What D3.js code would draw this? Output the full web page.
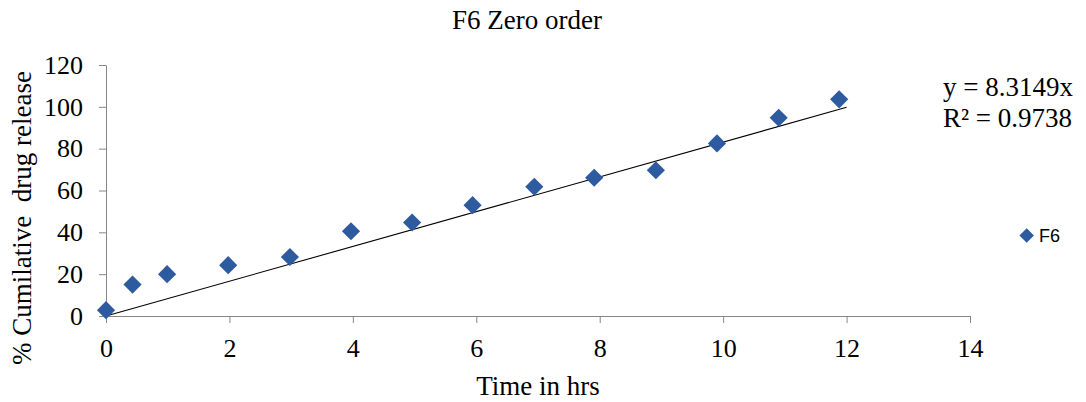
<!DOCTYPE html>
<html>
<head>
<meta charset="utf-8">
<script src="https://cdn.jsdelivr.net/npm/d3@7"></script>
<style>
  html, body { margin: 0; padding: 0; background: #fff; }
  svg { display: block; }
  .serif { font-family: "Liberation Serif", "Times New Roman", serif; fill: #000; }
</style>
</head>
<body>
<svg id="chart" width="1086" height="402"></svg>
<script>
// ---- data ----
const timeHrs   = [0, 0.43, 0.99, 1.98, 2.98, 3.97, 4.96, 5.94, 6.94, 7.91, 8.91, 9.9, 10.9, 11.88];
const releaseF6 = [2.8, 15.0, 20.0, 24.3, 28.2, 40.5, 44.7, 53.0, 61.8, 66.1, 69.7, 82.5, 94.8, 103.6];
const xTicks = [0, 2, 4, 6, 8, 10, 12, 14];
const yTicks = [0, 20, 40, 60, 80, 100, 120];
const slope = 8.3149;
const trendX = [0, 12];
const seriesName = "F6";
const titleText = "F6 Zero order";
const xTitle = "Time in hrs";
const yTitle = "% Cumilative\u00A0 drug release";
const eqLines = ["y = 8.3149x", "R\u00B2 = 0.9738"];

// ---- layout ----
const svg = d3.select("#chart");
const x = d3.scaleLinear().domain([0, 14]).range([106, 970]);
const y = d3.scaleLinear().domain([0, 120]).range([316, 65]);
const axisColor = "#868686";
const markerColor = "#2E5AA0";

svg.append("rect").attr("width", 1086).attr("height", 402).attr("fill", "#fff");

// x axis
const gx = svg.append("g").attr("transform", `translate(0,${y(0)})`)
  .call(d3.axisBottom(x).tickValues(xTicks).tickSize(7).tickSizeOuter(0).tickPadding(16));
// y axis
const gy = svg.append("g").attr("transform", `translate(${x(0)},0)`)
  .call(d3.axisLeft(y).tickValues(yTicks).tickSize(7).tickSizeOuter(0).tickPadding(16));

[gx, gy].forEach(g => {
  g.select(".domain").attr("stroke", axisColor).attr("stroke-width", 1);
  g.selectAll(".tick line").attr("stroke", axisColor);
  g.selectAll(".tick text").attr("class", "serif")
    .attr("font-size", 26).attr("fill", "#000");
});

// trendline
svg.append("line")
  .attr("x1", x(trendX[0])).attr("y1", y(slope * trendX[0]))
  .attr("x2", x(trendX[1])).attr("y2", y(slope * trendX[1]))
  .attr("stroke", "#000").attr("stroke-width", 1.1);

// markers
const diamond = d3.symbol().type(d3.symbolSquare).size(165);
svg.append("g").selectAll("path")
  .data(timeHrs.map((t, i) => [t, releaseF6[i]]))
  .join("path")
  .attr("d", diamond)
  .attr("transform", d => `translate(${x(d[0])},${y(d[1])}) rotate(45)`)
  .attr("fill", markerColor);

// title
svg.append("text").attr("class", "serif")
  .attr("x", 527).attr("y", 29).attr("text-anchor", "middle")
  .attr("font-size", 27).text(titleText);

// axis titles
svg.append("text").attr("class", "serif")
  .attr("x", 538).attr("y", 395).attr("text-anchor", "middle")
  .attr("font-size", 27).text(xTitle);
svg.append("text").attr("class", "serif")
  .attr("transform", "translate(31,218) rotate(-90)")
  .attr("text-anchor", "middle")
  .attr("font-size", 27).text(yTitle);

// equation
svg.append("g").selectAll("text")
  .data(eqLines).join("text").attr("class", "serif")
  .attr("x", 943).attr("y", (d, i) => 96 + i * 30.5)
  .attr("font-size", 27).text(d => d);

// legend
svg.append("path")
  .attr("d", d3.symbol().type(d3.symbolSquare).size(105))
  .attr("transform", "translate(1026.7,235.5) rotate(45)")
  .attr("fill", markerColor);
svg.append("text")
  .attr("x", 1039).attr("y", 242)
  .attr("font-family", "Liberation Sans, Arial, sans-serif")
  .attr("font-size", 18).attr("fill", "#000").text(seriesName);
</script>
</body>
</html>
